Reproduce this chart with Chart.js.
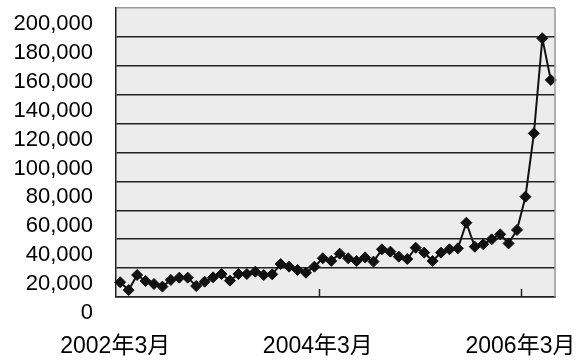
<!DOCTYPE html>
<html>
<head>
<meta charset="utf-8">
<script src="https://cdn.jsdelivr.net/npm/chart.js@4"></script>
<style>
  html, body { margin: 0; padding: 0; background: #fff; }
  #wrap { width: 583px; height: 360px; }
</style>
</head>
<body>
<div id="wrap"><canvas id="chart"></canvas></div>
<script>
// monthly series, 2002年3月 .. 2006年6月
const startYear = 2002;
const startMonth = 3;
const values = [
  10200, 4800, 15200, 11100, 9000, 7200, 11800, 13400, 13400, 7600,
  10600, 13600, 15900, 11300, 15900, 15900, 17500, 15200, 15700, 22800,
  21000, 18700, 16800, 21000, 26800, 25000, 30000, 26800, 24900, 27400,
  24500, 33000, 31400, 27900, 26300, 34100, 30700, 24900, 30700, 33000,
  33700, 51400, 34800, 36500, 39900, 43400, 37100, 46400, 69400, 113300,
  179000, 150200
];
const yTicks = [0, 20000, 40000, 60000, 80000, 100000, 120000, 140000, 160000, 180000, 200000];
const labelEvery = 24;

const months = values.map((v, i) => {
  const m = startMonth - 1 + i;
  return (startYear + Math.floor(m / 12)) + '年' + (m % 12 + 1) + '月';
});

const FONT = '"Liberation Sans", "Noto Sans CJK JP", sans-serif';
const DARK = '#222';

const plotFrame = {
  id: 'plotFrame',
  beforeDraw(chart) {
    const {ctx, chartArea: a} = chart;
    ctx.save();
    ctx.fillStyle = '#ececec';
    ctx.fillRect(a.left, a.top, a.right - a.left, a.bottom - a.top);
    ctx.restore();
  },
  afterDraw(chart) {
    const {ctx, chartArea: a} = chart;
    const x = chart.scales.x;
    ctx.save();
    // light right border
    ctx.strokeStyle = '#999';
    ctx.lineWidth = 1.5;
    ctx.beginPath();
    ctx.moveTo(a.right, a.top);
    ctx.lineTo(a.right, a.bottom);
    ctx.stroke();
    // inward tick marks between categories
    ctx.strokeStyle = DARK;
    ctx.lineWidth = 1.5;
    const half = (x.getPixelForValue(1) - x.getPixelForValue(0)) / 2;
    for (let i = labelEvery; i < values.length; i += labelEvery) {
      const px = Math.round(x.getPixelForValue(i) - half) + 0.5;
      ctx.beginPath();
      ctx.moveTo(px, a.bottom);
      ctx.lineTo(px, a.bottom - 8);
      ctx.stroke();
    }
    ctx.restore();
  }
};

new Chart(document.getElementById('chart'), {
  type: 'line',
  data: {
    labels: months,
    datasets: [{
      data: values,
      borderColor: '#111',
      borderWidth: 2,
      backgroundColor: '#111',
      pointStyle: 'rectRot',
      pointRadius: 5.5,
      pointBorderWidth: 1,
      pointBorderColor: '#111',
      pointBackgroundColor: '#111',
      tension: 0
    }]
  },
  options: {
    responsive: true,
    maintainAspectRatio: false,
    animation: false,
    devicePixelRatio: 1,
    layout: { padding: { top: 8, right: 28, left: 0, bottom: 0 } },
    plugins: { legend: { display: false }, tooltip: { enabled: false } },
    scales: {
      x: {
        type: 'category',
        offset: true,
        grid: { display: false },
        border: { display: true, color: DARK, width: 1.5 },
        ticks: {
          autoSkip: false,
          maxRotation: 0,
          padding: 28,
          labelOffset: -5,
          color: '#000',
          font: { family: FONT, size: 23 },
          callback: (v, i) => (i % labelEvery === 0 ? months[i] : null)
        },
        afterFit: (s) => {
          s.height = 63;
          s.paddingLeft = 0;
          s.paddingRight = 0;
        }
      },
      y: {
        min: 0,
        max: 200000,
        afterBuildTicks: (s) => { s.ticks = yTicks.map(v => ({value: v})); },
        grid: {
          drawTicks: false,
          lineWidth: 1.5,
          color: (c) => (c.tick && c.tick.value === 200000 ? '#999' : DARK)
        },
        border: { display: true, color: DARK, width: 1.5 },
        ticks: {
          autoSkip: false,
          padding: 23,
          labelOffset: 16,
          color: '#000',
          font: { family: FONT, size: 22 },
          callback: (v) => Number(v).toLocaleString('en-US')
        },
        afterFit: (s) => {
          s.width = 116;
          s.paddingTop = 0;
          s.paddingBottom = 0;
        }
      }
    }
  },
  plugins: [plotFrame]
});
</script>
</body>
</html>
